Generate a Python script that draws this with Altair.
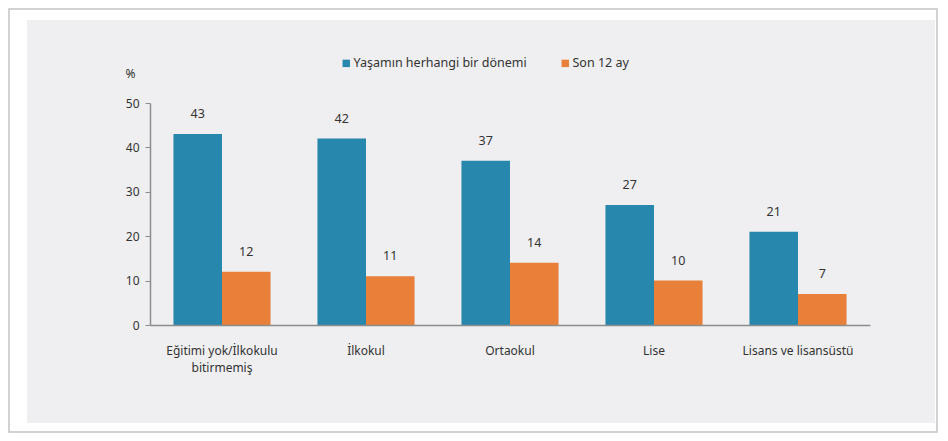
import altair as alt
import pandas as pd

categories = ["Eğitimi yok/İlkokulu bitirmemiş", "İlkokul", "Ortaokul", "Lise", "Lisans ve lisansüstü"]
series_names = ["Yaşamın herhangi bir dönemi", "Son 12 ay"]
lifetime = [43, 42, 37, 27, 21]
last12 = [12, 11, 14, 10, 7]
colors = ["#2887ad", "#e8803a"]

rows = []
for c, a, b in zip(categories, lifetime, last12):
    rows.append({"cat": c, "series": series_names[0], "value": a})
    rows.append({"cat": c, "series": series_names[1], "value": b})
df = pd.DataFrame(rows)

FONT = "Noto Sans"

x_enc = alt.X(
    "cat:N", sort=categories, title=None,
    scale=alt.Scale(paddingInner=0.326, paddingOuter=0.163),
    axis=alt.Axis(
        labelAngle=0, ticks=False, domainColor="#8c8c8c", domainWidth=1.5,
        labelPadding=20, labelFontSize=12, labelColor="#333333", labelFont=FONT,
        labelExpr="split(replace(datum.label, 'İlkokulu ', 'İlkokulu|'), '|')",
        labelLineHeight=17, labelLimit=300, zindex=1,
    ),
)
xo_enc = alt.XOffset("series:N", sort=series_names)
color_enc = alt.Color(
    "series:N", sort=series_names,
    scale=alt.Scale(domain=series_names, range=colors),
    legend=alt.Legend(
        title=None, orient="none", legendX=190, legendY=-46, direction="horizontal",
        symbolType="square", symbolSize=55, symbolStrokeWidth=0, labelFontSize=12.5,
        labelFont=FONT, labelColor="#333333", labelOffset=1, columnPadding=32,
        labelLimit=400, zindex=1,
    ),
)

bg = alt.Chart(alt.Data(values=[{"a": 1}])).mark_rect(color="#efeff1").encode(
    x=alt.value(-123), x2=alt.value(785), y=alt.value(-83), y2=alt.value(320)
)
frame = alt.Chart(alt.Data(values=[{"a": 1}])).mark_rect(
    fill="white", stroke="#c4c4c4", strokeWidth=1.5
).encode(
    x=alt.value(-141), x2=alt.value(787), y=alt.value(-94), y2=alt.value(329)
)

bars = alt.Chart(df).mark_bar().encode(
    x=x_enc,
    xOffset=xo_enc,
    y=alt.Y(
        "value:Q", title="%",
        scale=alt.Scale(domain=[0, 50]),
        axis=alt.Axis(
            values=[0, 10, 20, 30, 40, 50], grid=False, domainColor="#8c8c8c", domainWidth=1.5,
            tickColor="#8c8c8c", tickSize=5, labelPadding=6, labelFontSize=12,
            labelColor="#333333", labelFont=FONT,
            titleAngle=0, titleX=-20, titleY=-30, titleAlign="center", titleBaseline="middle",
            titleFontWeight="normal", titleFontSize=12, titleColor="#333333", titleFont=FONT,
            zindex=1,
        ),
    ),
    color=color_enc,
)

labels = alt.Chart(df).mark_text(
    dy=-13, baseline="bottom", fontSize=12.5, font=FONT, color="#333333"
).encode(
    x=alt.X("cat:N", sort=categories),
    xOffset=xo_enc,
    y="value:Q",
    text="value:Q",
)

chart = alt.layer(frame, bg, bars, labels).properties(
    width=720, height=222,
    autosize=alt.AutoSizeParams(type="none"),
    padding={"left": 142, "top": 95, "right": 70, "bottom": 108},
    background="white",
).configure_view(stroke=None)

chart.save("out.html", embed_options={"renderer": "svg", "actions": False})
